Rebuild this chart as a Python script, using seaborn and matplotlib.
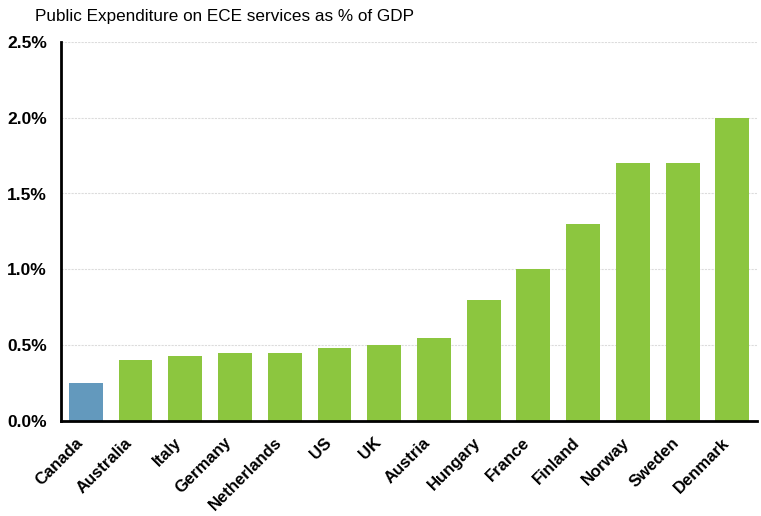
import matplotlib
matplotlib.use("Agg")
import matplotlib.pyplot as plt
import matplotlib.transforms as mtransforms
import seaborn as sns
import pandas as pd
from matplotlib.ticker import FuncFormatter

countries = ["Canada", "Australia", "Italy", "Germany", "Netherlands", "US", "UK",
             "Austria", "Hungary", "France", "Finland", "Norway", "Sweden", "Denmark"]
values = [0.25, 0.40, 0.43, 0.45, 0.45, 0.48, 0.50, 0.55, 0.80, 1.00, 1.30, 1.70, 1.70, 2.00]
highlight = ["Canada"]
title = "Public Expenditure on ECE services as % of GDP"

sns.set_theme(style="white")
plt.rcParams['font.family'] = ['Liberation Sans', 'DejaVu Sans']
plt.rcParams['text.color'] = 'black'
plt.rcParams['xtick.color'] = 'black'
plt.rcParams['ytick.color'] = 'black'

df = pd.DataFrame({"country": countries, "value": values})
palette = {c: ("#6399BD" if c in highlight else "#8CC63F") for c in countries}

fig = plt.figure(figsize=(7.61, 5.16), dpi=100)
ax = fig.add_axes([0.080, 0.184, 0.915, 0.735])
sns.barplot(data=df, x="country", y="value", hue="country", palette=palette,
            width=0.68, saturation=1, legend=False, ax=ax, zorder=3,
            linewidth=0, edgecolor="none")

ax.set_ylim(0, 2.5)
ax.set_xlim(-0.5, len(countries) - 0.5)
ax.set_yticks([0, 0.5, 1.0, 1.5, 2.0, 2.5])
ax.yaxis.set_major_formatter(FuncFormatter(lambda v, p: f"{v:.1f}%"))
ax.grid(axis="y", color="#dcdcdc", linewidth=0.8, linestyle=(0, (2, 1)), zorder=0)
ax.set_xlabel("")
ax.set_ylabel("")
for s in ["top", "right"]:
    ax.spines[s].set_visible(False)
for s in ["left", "bottom"]:
    ax.spines[s].set_color("black")
    ax.spines[s].set_linewidth(2)
    ax.spines[s].set_zorder(4)
ax.tick_params(axis="y", length=0, pad=10, labelcolor="black")
for lab in ax.get_yticklabels():
    lab.set_fontweight("bold")
    lab.set_fontsize(12.5)
ax.set_xticks(range(len(countries)))
ax.set_xticklabels(countries, rotation=45, ha="right", rotation_mode="anchor",
                   fontweight="bold", fontsize=12, color="black")
ax.tick_params(axis="x", length=0, pad=10, labelcolor="black")
offset = mtransforms.ScaledTranslation(-11 / 100, 0, fig.dpi_scale_trans)
for lab in ax.get_xticklabels():
    lab.set_transform(lab.get_transform() + offset)

fig.text(35 / 761, 1 - 16 / 516, title, fontsize=12.3, va="center", ha="left",
         color="black")

fig.savefig("out.png", dpi=100)
